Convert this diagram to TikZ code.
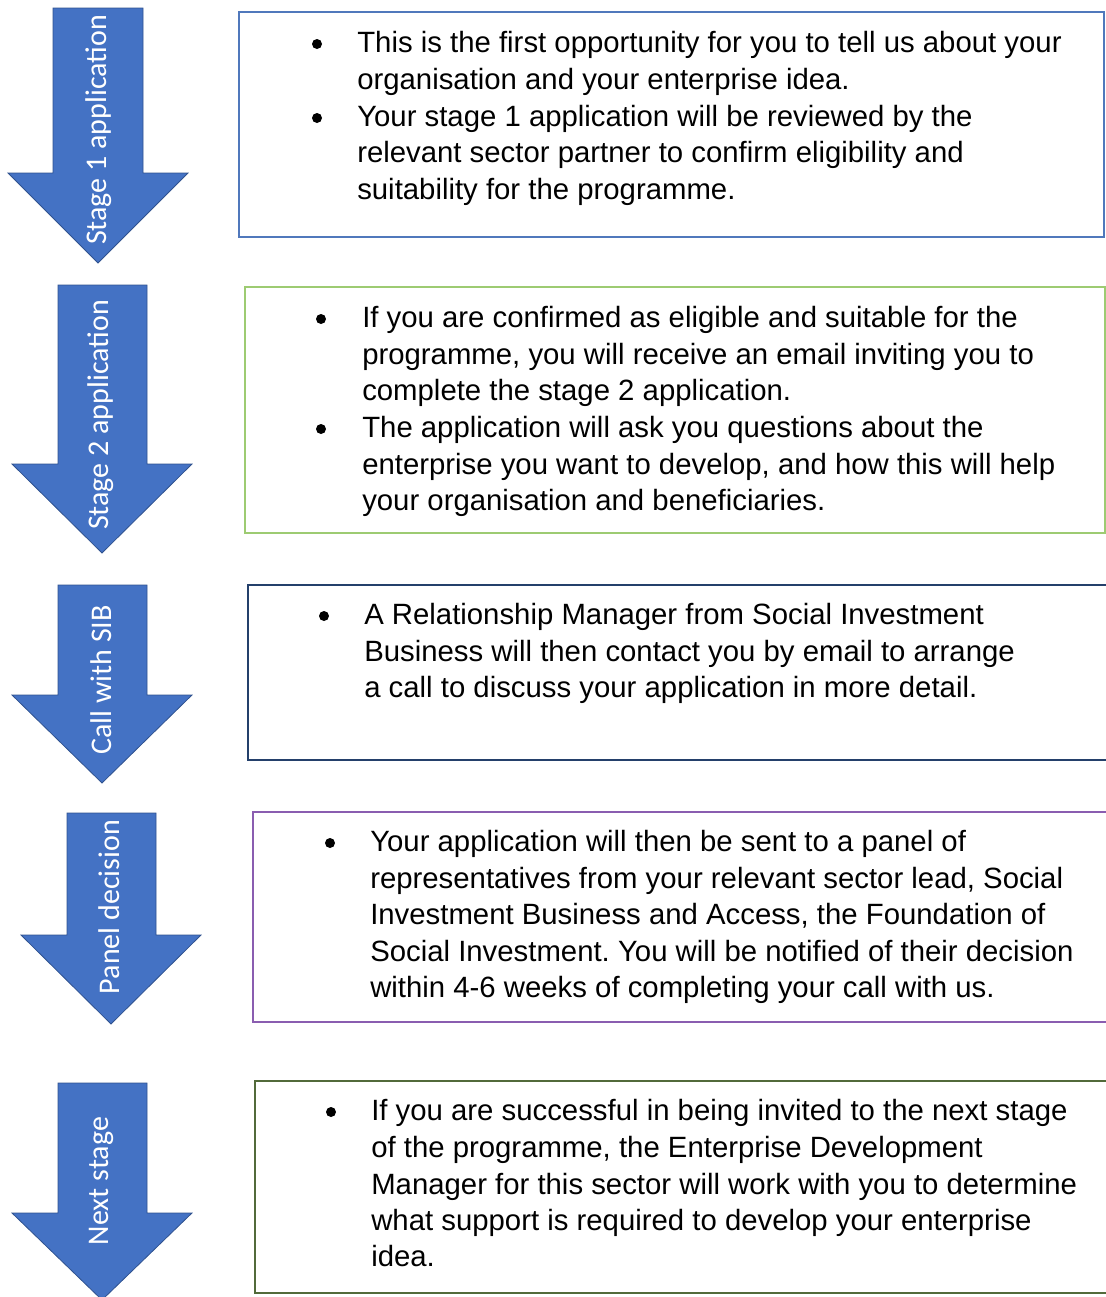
\documentclass[tikz,border=0pt]{standalone}
\usepackage{fontspec}
\setmainfont{Liberation Sans}
\newfontfamily\lblfamily{Carlito}
\frenchspacing
\definecolor{arrowfill}{HTML}{4472C4}
\definecolor{arrowedge}{HTML}{2F528F}
\definecolor{boxA}{HTML}{5078BC}
\definecolor{boxB}{HTML}{9DCB72}
\definecolor{boxC}{HTML}{24406B}
\definecolor{boxD}{HTML}{8A5DB0}
\definecolor{boxE}{HTML}{526A3A}
\tikzset{
  bigarrow/.style={fill=arrowfill, draw=arrowedge, line width=0.6pt, line join=miter},
  stagebox/.style={line width=1.5pt, fill=none},
  lbl/.style={rotate=90, text=white, font=\lblfamily\fontsize{22.5pt}{24pt}\selectfont, inner sep=0pt},
  txt/.style={anchor=base west, inner sep=0pt, font=\fontsize{22pt}{27pt}\selectfont},
  bul/.style={circle, fill=black, draw=none, inner sep=0pt, minimum size=7.5pt}
}
\begin{document}
\begin{tikzpicture}[x=0.75pt, y=-0.75pt]
\useasboundingbox (0,0) rectangle (1106,1297);
% ---------- arrows ----------
\path[bigarrow] (53,8) -- (143,8) -- (143,173) -- (188,173) -- (98,263) -- (8,173) -- (53,173) -- cycle;
\node[lbl] (l1) at (99,130) {Stage 1 application};
\path[bigarrow] (58,285) -- (147,285) -- (147,464) -- (192,464) -- (102,553) -- (12,464) -- (58,464) -- cycle;
\node[lbl] (l2) at (101,415) {Stage 2 application};
\path[bigarrow] (58,585) -- (147,585) -- (147,695) -- (192,695) -- (102,783) -- (12,695) -- (58,695) -- cycle;
\node[lbl] (l3) at (101,680) {Call with SIB};
\path[bigarrow] (67,813) -- (156,813) -- (156,935) -- (201,935) -- (111,1024) -- (21,935) -- (67,935) -- cycle;
\node[lbl] (l4) at (109,907) {Panel decision};
\path[bigarrow] (58,1083) -- (147,1083) -- (147,1213) -- (192,1213) -- (102,1300) -- (12,1213) -- (58,1213) -- cycle;
\node[lbl] (l5) at (101,1181) {Next stage};
% ---------- boxes ----------
\draw[stagebox, draw=boxA] (239,12) rectangle (1104,237);
\draw[stagebox, draw=boxB] (245,287) rectangle (1105,533);
\draw[stagebox, draw=boxC] (248,585) rectangle (1112,760);
\draw[stagebox, draw=boxD] (253,812) rectangle (1112,1022);
\draw[stagebox, draw=boxE] (255,1081) rectangle (1112,1293);
% ---------- box 1 text ----------
\node[bul] (b1a) at (317,44) {};
\node[txt] (t1a) at (357,52) {This is the first opportunity for you to tell us about your};
\node[txt] (t1b) at (357,89) {organisation and your enterprise idea.};
\node[bul] (b1b) at (317,118) {};
\node[txt] (t1c) at (357,126) {Your stage 1 application will be reviewed by the};
\node[txt] (t1d) at (357,162.5) {relevant sector partner to confirm eligibility and};
\node[txt] (t1e) at (357,199) {suitability for the programme.};
% ---------- box 2 text ----------
\node[bul] (b2a) at (321,319) {};
\node[txt] (t2a) at (362,327) {If you are confirmed as eligible and suitable for the};
\node[txt] (t2b) at (362,364) {programme, you will receive an email inviting you to};
\node[txt] (t2c) at (362,400) {complete the stage 2 application.};
\node[bul] (b2b) at (321,429) {};
\node[txt] (t2d) at (362,437) {The application will ask you questions about the};
\node[txt] (t2e) at (362,474) {enterprise you want to develop, and how this will help};
\node[txt] (t2f) at (362,510) {your organisation and beneficiaries.};
% ---------- box 3 text ----------
\node[bul] (b3a) at (324,616) {};
\node[txt] (t3a) at (364,624) {A Relationship Manager from Social Investment};
\node[txt] (t3b) at (364,661) {Business will then contact you by email to arrange};
\node[txt] (t3c) at (364,697) {a call to discuss your application in more detail.};
% ---------- box 4 text ----------
\node[bul] (b4a) at (330,843) {};
\node[txt] (t4a) at (370,851) {Your application will then be sent to a panel of};
\node[txt] (t4b) at (370,888) {representatives from your relevant sector lead, Social};
\node[txt] (t4c) at (370,924) {Investment Business and Access, the Foundation of};
\node[txt] (t4d) at (370,961) {Social Investment. You will be notified of their decision};
\node[txt] (t4e) at (370,997) {within 4-6 weeks of completing your call with us.};
% ---------- box 5 text ----------
\node[bul] (b5a) at (331,1112) {};
\node[txt] (t5a) at (371,1120) {If you are successful in being invited to the next stage};
\node[txt] (t5b) at (371,1157) {of the programme, the Enterprise Development};
\node[txt] (t5c) at (371,1194) {Manager for this sector will work with you to determine};
\node[txt] (t5d) at (371,1230) {what support is required to develop your enterprise};
\node[txt] (t5e) at (371,1266) {idea.};
\end{tikzpicture}
\end{document}
